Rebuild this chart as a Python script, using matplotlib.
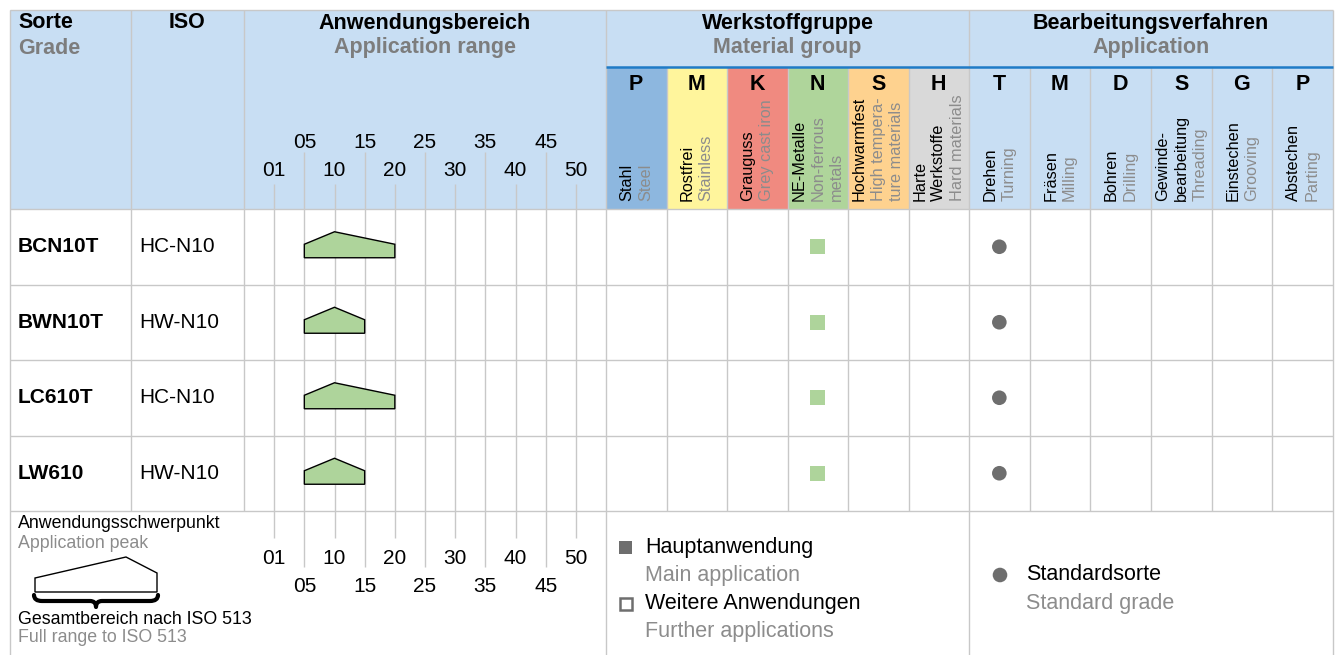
import matplotlib
matplotlib.use("Agg")
import matplotlib.pyplot as plt
from matplotlib.patches import Rectangle, Polygon, Circle, PathPatch
from matplotlib.path import Path

plt.rcParams['font.family'] = ['Liberation Sans', 'DejaVu Sans']

# --- Daten ---
sorten = ["BCN10T", "BWN10T", "LC610T", "LW610"]
iso_codes = ["HC-N10", "HW-N10", "HC-N10", "HW-N10"]

bereich_labels = ["01", "05", "10", "15", "20", "25", "30", "35", "40", "45", "50"]
bereich_start = ["05", "05", "05", "05"]
bereich_peak = ["10", "10", "10", "10"]
bereich_ende = ["20", "15", "20", "15"]

werkstoff_codes = ["P", "M", "K", "N", "S", "H"]
werkstoff_de = [["Stahl"], ["Rostfrei"], ["Grauguss"], ["NE-Metalle"],
                ["Hochwarmfest"], ["Harte", "Werkstoffe"]]
werkstoff_en = [["Steel"], ["Stainless"], ["Grey cast iron"], ["Non-ferrous", "metals"],
                ["High tempera-", "ture materials"], ["Hard materials"]]
werkstoff_farben = ["#8db7df", "#fff59c", "#f08a80", "#afd59b", "#fed28f", "#d9d9d9"]
haupt_werkstoff = ["N", "N", "N", "N"]

verfahren_codes = ["T", "M", "D", "S", "G", "P"]
verfahren_de = [["Drehen"], ["Fräsen"], ["Bohren"], ["Gewinde-", "bearbeitung"],
                ["Einstechen"], ["Abstechen"]]
verfahren_en = [["Turning"], ["Milling"], ["Drilling"], ["Threading"],
                ["Grooving"], ["Parting"]]
standard_verfahren = ["T", "T", "T", "T"]

# --- Layout in Pixeln ---
W, H = 1336, 655
X_L, X_ISO, X_AR, X_MAT, X_APP, X_R = 10, 131, 244, 606, 969, 1333
Y_T, Y_SUB, Y_HDR = 10, 67, 209
ROW_H = 75.5
Y_LEG = Y_HDR + ROW_H * len(sorten)
Y_B = H + 5

HDR_BG = "#c8def3"
GRID = "#c8c8c8"
BLAU = "#1f7bc6"
GRAU = "#7d7d7d"
HELLGRAU = "#8c8c8c"
DUNKEL = "#6e6e6e"
GRUEN = "#aed49b"

mat_w = (X_APP - X_MAT) / len(werkstoff_codes)
app_w = (X_R - X_APP) / len(verfahren_codes)
schritt = (X_MAT - X_AR) / (len(bereich_labels) + 1)
tick_x = {lab: X_AR + schritt * (i + 1) for i, lab in enumerate(bereich_labels)}

fig = plt.figure(figsize=(W / 100, H / 100), dpi=100)
ax = fig.add_axes([0, 0, 1, 1])
ax.set_xlim(0, W)
ax.set_ylim(H, 0)
ax.axis('off')


def linie(xs, ys, color=GRID, lw=1.0, z=2):
    ax.plot(xs, ys, color=color, lw=lw, solid_capstyle='butt', zorder=z)


# Kopfbereich
ax.add_patch(Rectangle((X_L, Y_T), X_R - X_L, Y_HDR - Y_T, fc=HDR_BG, ec='none', zorder=0))
for k, farbe in enumerate(werkstoff_farben):
    ax.add_patch(Rectangle((X_MAT + k * mat_w, Y_SUB), mat_w, Y_HDR - Y_SUB,
                           fc=farbe, ec='none', zorder=1))

fs_hdr = 15.5
ax.text(18, 23, "Sorte", fontsize=fs_hdr, fontweight='bold', va='center')
ax.text(18, 48, "Grade", fontsize=fs_hdr, fontweight='bold', color=GRAU, va='center')
ax.text((X_ISO + X_AR) / 2, 23, "ISO", fontsize=fs_hdr, fontweight='bold', ha='center', va='center')
for x0, x1, de, en in [(X_AR, X_MAT, "Anwendungsbereich", "Application range"),
                       (X_MAT, X_APP, "Werkstoffgruppe", "Material group"),
                       (X_APP, X_R, "Bearbeitungsverfahren", "Application")]:
    ax.text((x0 + x1) / 2, 23, de, fontsize=fs_hdr, fontweight='bold', ha='center', va='center')
    ax.text((x0 + x1) / 2, 48, en, fontsize=fs_hdr, fontweight='bold', color=GRAU,
            ha='center', va='center')

linie([X_MAT, X_R], [Y_SUB, Y_SUB], color=BLAU, lw=1.8, z=3)


def spalten_kopf(x0, breite, codes, de_list, en_list):
    for k, code in enumerate(codes):
        cx = x0 + (k + 0.5) * breite
        ax.text(cx, 85, code, fontsize=fs_hdr, fontweight='bold', ha='center', va='center', zorder=4)
        zeilen = [(t, 'black') for t in de_list[k]] + [(t, HELLGRAU) for t in en_list[k]]
        n = len(zeilen)
        for j, (t, c) in enumerate(zeilen):
            ax.text(cx + (j - (n - 1) / 2) * 18.7, 201, t, fontsize=11.7, color=c,
                    rotation=90, ha='center', va='bottom', zorder=4)


spalten_kopf(X_MAT, mat_w, werkstoff_codes, werkstoff_de, werkstoff_en)
spalten_kopf(X_APP, app_w, verfahren_codes, verfahren_de, verfahren_en)

# Skala im Kopf und in der Legende
for i, lab in enumerate(bereich_labels):
    x = tick_x[lab]
    if i % 2 == 0:
        linie([x, x], [184, 538])
        ax.text(x, 170, lab, fontsize=15, ha='center', va='center')
        ax.text(x, 558, lab, fontsize=15, ha='center', va='center')
    else:
        linie([x, x], [152, 567])
        ax.text(x, 143, lab, fontsize=15, ha='center', va='center')
        ax.text(x, 587, lab, fontsize=15, ha='center', va='center')

# Tabellenraster
linie([X_L, X_R], [Y_T, Y_T])
linie([X_L, X_L], [Y_T, Y_B])
linie([X_R, X_R], [Y_T, Y_B])
for r in range(len(sorten) + 1):
    y = Y_HDR + r * ROW_H
    linie([X_L, X_R], [y, y])
for x in (X_ISO, X_AR):
    linie([x, x], [Y_T, Y_LEG])
for x in (X_MAT, X_APP):
    linie([x, x], [Y_T, Y_B])
for k in range(1, len(werkstoff_codes)):
    linie([X_MAT + k * mat_w] * 2, [Y_SUB, Y_LEG])
for k in range(1, len(verfahren_codes)):
    linie([X_APP + k * app_w] * 2, [Y_SUB, Y_LEG])

# Datenzeilen
for r, sorte in enumerate(sorten):
    cy = Y_HDR + (r + 0.5) * ROW_H
    ax.text(18, cy, sorte, fontsize=15, fontweight='bold', va='center')
    ax.text(139, cy, iso_codes[r], fontsize=15, va='center')

    xs, xp, xe = tick_x[bereich_start[r]], tick_x[bereich_peak[r]], tick_x[bereich_ende[r]]
    form = [(xs, cy + 11), (xs, cy - 2.5), (xp, cy - 15), (xe, cy - 2.5), (xe, cy + 11)]
    ax.add_patch(Polygon(form, closed=True, fc=GRUEN, ec='black', lw=1.0, zorder=5))

    k = werkstoff_codes.index(haupt_werkstoff[r])
    cx = X_MAT + (k + 0.5) * mat_w
    ax.add_patch(Rectangle((cx - 7.5, cy - 7.5), 15, 15, fc=GRUEN, ec='none', zorder=5))

    k = verfahren_codes.index(standard_verfahren[r])
    cx = X_APP + (k + 0.5) * app_w
    ax.add_patch(Circle((cx, cy), 7.3, fc=DUNKEL, ec='none', zorder=5))

# Legende links
ax.text(18, 524, "Anwendungsschwerpunkt", fontsize=12.8, va='center')
ax.text(18, 543, "Application peak", fontsize=12.8, color=HELLGRAU, va='center')
ax.add_patch(Polygon([(35, 592), (35, 578), (126, 557), (157, 573), (157, 592)],
                     closed=True, fc='white', ec='black', lw=1.0, zorder=5))
klammer = Path([(34, 595), (34, 601), (42, 601),
                (90, 601), (96, 601), (96, 607),
                (96, 601), (102, 601),
                (150, 601), (158, 601), (158, 595)],
               [Path.MOVETO, Path.CURVE3, Path.CURVE3,
                Path.LINETO, Path.CURVE3, Path.CURVE3,
                Path.CURVE3, Path.CURVE3,
                Path.LINETO, Path.CURVE3, Path.CURVE3])
ax.add_patch(PathPatch(klammer, fc='none', ec='black', lw=3.0, zorder=5,
                       capstyle='round', joinstyle='round'))
ax.text(18, 619, "Gesamtbereich nach ISO 513", fontsize=12.8, va='center')
ax.text(18, 638, "Full range to ISO 513", fontsize=12.8, color=HELLGRAU, va='center')

# Legende Mitte
ax.add_patch(Rectangle((619, 541), 13, 13, fc=DUNKEL, ec='none', zorder=5))
ax.add_patch(Rectangle((619.5, 597.5), 12, 12, fc='white', ec=DUNKEL, lw=1.8, zorder=5))
ax.text(645, 548, "Hauptanwendung", fontsize=15.5, va='center')
ax.text(645, 575, "Main application", fontsize=15.5, color=HELLGRAU, va='center')
ax.text(645, 604, "Weitere Anwendungen", fontsize=15.5, va='center')
ax.text(645, 632, "Further applications", fontsize=15.5, color=HELLGRAU, va='center')

# Legende rechts
ax.add_patch(Circle((1000, 575), 7.3, fc=DUNKEL, ec='none', zorder=5))
ax.text(1026, 575, "Standardsorte", fontsize=15.5, va='center')
ax.text(1026, 604, "Standard grade", fontsize=15.5, color=HELLGRAU, va='center')

fig.savefig("out.png", dpi=100)
